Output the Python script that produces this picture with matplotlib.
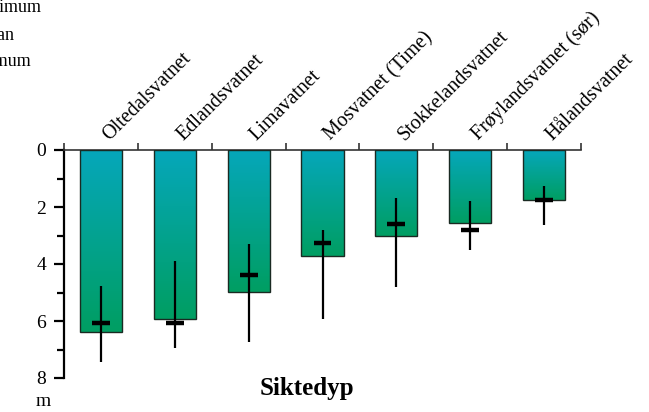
import matplotlib
matplotlib.use("Agg")
import matplotlib.pyplot as plt
import numpy as np

plt.rcParams['font.family'] = ['Liberation Serif', 'DejaVu Serif']

lakes = ['Oltedalsvatnet', 'Edlandsvatnet', 'Limavatnet', 'Mosvatnet (Time)',
         'Stokkelandsvatnet', 'Frøylandsvatnet (sør)', 'Hålandsvatnet']
mean_depth = [6.39, 5.93, 4.99, 3.71, 3.03, 2.56, 1.75]   # bar height
median_depth = [6.08, 6.08, 4.40, 3.26, 2.58, 2.79, 1.77]  # black dash
min_depth = [4.76, 3.88, 3.29, 2.79, 1.68, 1.80, 1.27]
max_depth = [7.43, 6.96, 6.75, 5.94, 4.79, 3.52, 2.64]
legend_text = ['Maksimum', 'Median', 'Minimum']

W, H = 649, 412
fig = plt.figure(figsize=(W / 100, H / 100), dpi=100)
ax = fig.add_axes([64 / W, 1 - 378 / H, (581 - 64) / W, (378 - 150) / H])

x = np.arange(len(lakes))
bw = 0.57

# vertical gradient teal -> green
top_c = np.array([0x06, 0xa7, 0xbb]) / 255
bot_c = np.array([0x00, 0x9e, 0x62]) / 255
t = np.linspace(0, 1, 256)[:, None, None]
grad = top_c * (1 - t) + bot_c * t

bars = ax.bar(x, mean_depth, width=bw, facecolor='none', edgecolor='#1a2a22',
              linewidth=1.0, zorder=3)
for b, v in zip(bars, mean_depth):
    x0 = b.get_x()
    im = ax.imshow(grad, extent=(x0, x0 + bw, v, 0), origin='upper',
                   aspect='auto', zorder=2)
    im.set_clip_path(b)

# min-max lines and median dash
ax.vlines(x, min_depth, max_depth, color='black', linewidth=1.6, zorder=4)
ax.hlines(median_depth, x - 0.12, x + 0.12, color='black', linewidth=3.2, zorder=5)

ax.set_xlim(-0.5, len(lakes) - 0.5)
ax.set_ylim(8, 0)

ax.spines['right'].set_visible(False)
ax.spines['bottom'].set_visible(False)
ax.spines['left'].set_linewidth(1.6)
ax.spines['top'].set_linewidth(1.2)
ax.spines['top'].set_color('#333333')

ax.set_yticks([0, 2, 4, 6, 8])
ax.set_yticks([1, 3, 5, 7], minor=True)
ax.tick_params(axis='y', which='major', length=7, width=1.6, labelsize=14, pad=6)
ax.tick_params(axis='y', which='minor', length=5, width=1.6)

ax.xaxis.set_ticks_position('top')
ax.set_xticks(np.arange(-0.5, len(lakes)))
ax.set_xticklabels([])
ax.tick_params(axis='x', direction='out', length=5, width=1.2, color='#333333')

for xi, name in zip(x, lakes):
    ax.text(xi + 0.16, -0.2, name, rotation=45, rotation_mode='anchor',
            ha='left', va='bottom', fontsize=14.5)

ax.text(307 / W, 1 - 389 / H, 'Siktedyp', transform=fig.transFigure, ha='center',
        va='center', fontsize=18, fontweight='bold')
fig.text(36 / W, 1 - 401 / H, 'm', ha='left', va='center', fontsize=14)

for i, s in enumerate(legend_text):
    fig.text(-40 / W, 1 - (8 + 27 * i) / H, s, ha='left', va='center', fontsize=13)

fig.savefig('out.png', dpi=100)
